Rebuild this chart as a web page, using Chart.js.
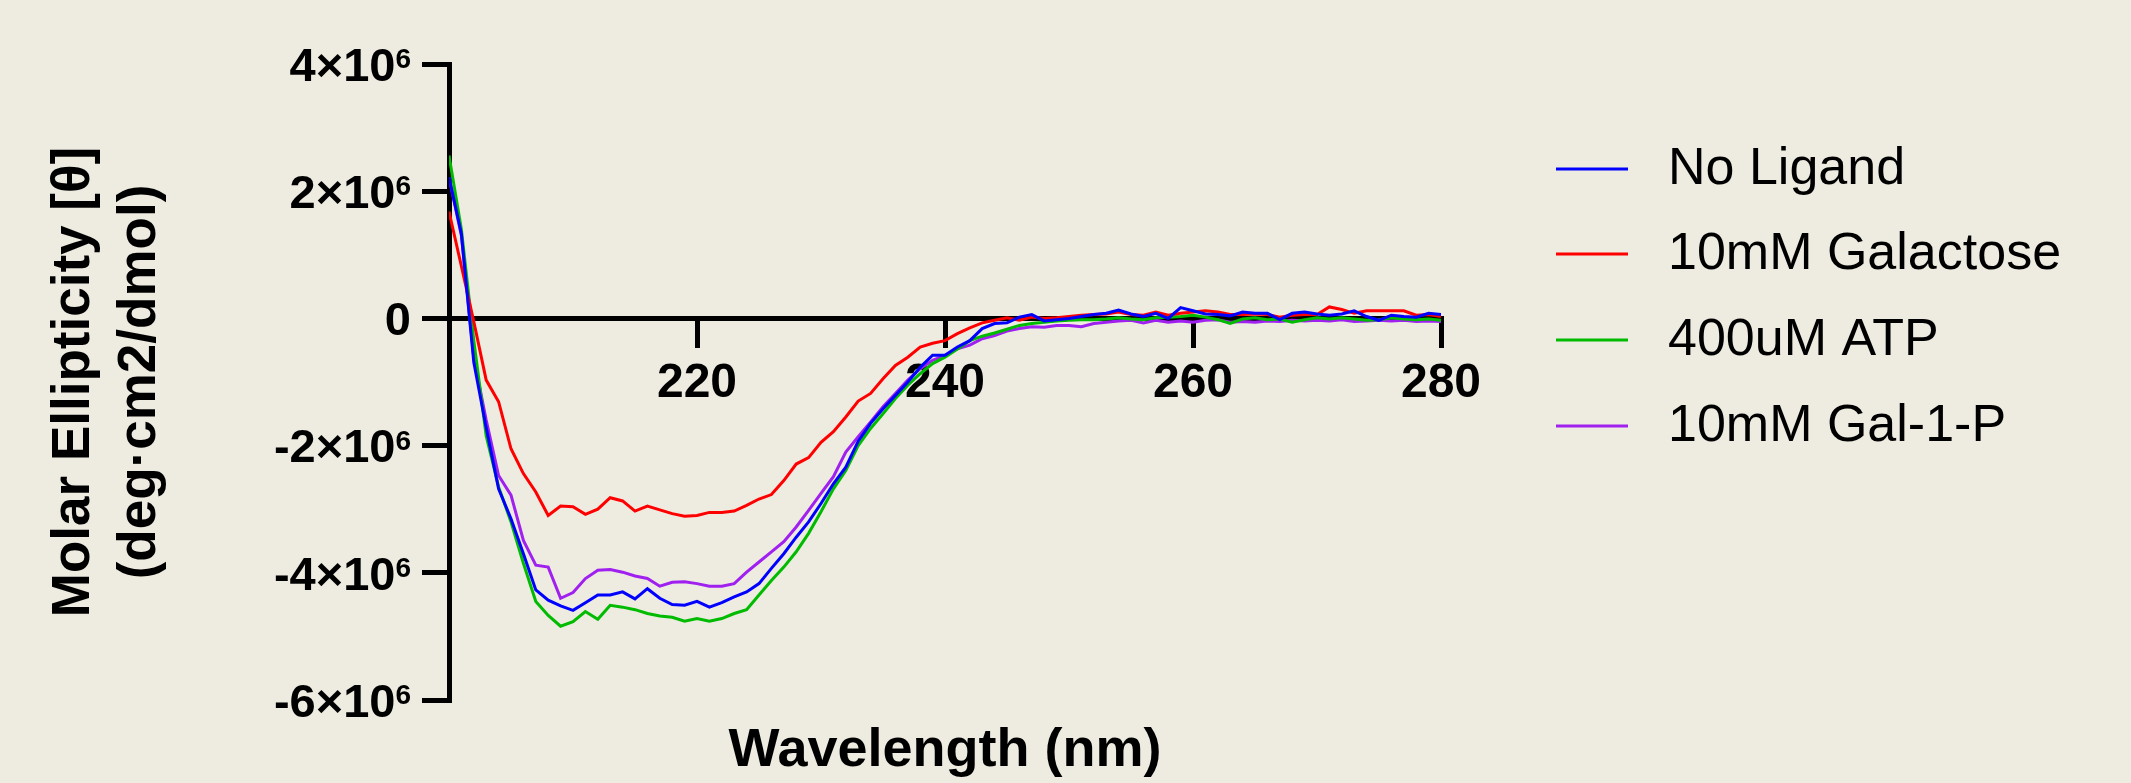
<!DOCTYPE html>
<html>
<head>
<meta charset="utf-8">
<script src="https://cdn.jsdelivr.net/npm/chart.js@4.4.1/dist/chart.umd.min.js"></script>
<style>
  html, body { margin: 0; padding: 0; background: #EEEBE0; }
  #wrap { width: 2131px; height: 783px; position: relative; overflow: hidden; }
  canvas { display: block; }
</style>
</head>
<body>
<div id="wrap"><canvas id="c" width="2131" height="783"></canvas></div>
<script>
// ---- DATA (molar ellipticity values in units of 10^6 deg·cm2/dmol) ----
const wavelengths = [
  200,201,202,203,204,205,206,207,208,209,
  210,211,212,213,214,215,216,217,218,219,
  220,221,222,223,224,225,226,227,228,229,
  230,231,232,233,234,235,236,237,238,239,
  240,241,242,243,244,245,246,247,248,249,
  250,251,252,253,254,255,256,257,258,259,
  260,261,262,263,264,265,266,267,268,269,
  270,271,272,273,274,275,276,277,278,279,
  280
];
const noLigand = [
  2.22, 1.33,-0.69,-1.72,-2.68,-3.15,-3.70,-4.27,-4.43,-4.52,
 -4.59,-4.47,-4.35,-4.35,-4.30,-4.41,-4.25,-4.40,-4.50,-4.51,
 -4.45,-4.54,-4.47,-4.38,-4.30,-4.17,-3.93,-3.70,-3.44,-3.20,
 -2.91,-2.60,-2.34,-1.93,-1.65,-1.42,-1.21,-1.00,-0.77,-0.58,
 -0.58,-0.45,-0.35,-0.16,-0.08,-0.07, 0.02, 0.06,-0.04,-0.02,
  0.00, 0.03, 0.06, 0.08, 0.13, 0.07, 0.03, 0.08, 0.00, 0.17,
  0.12, 0.07, 0.06, 0.04, 0.10, 0.08, 0.08,-0.02, 0.08, 0.10,
  0.07, 0.05, 0.07, 0.12, 0.03,-0.03, 0.05, 0.03, 0.02, 0.08,
  0.06
];
const galactose = [
  1.68, 0.82,-0.05,-0.97,-1.31,-2.05,-2.44,-2.73,-3.10,-2.95,
 -2.96,-3.08,-3.00,-2.82,-2.87,-3.03,-2.95,-3.01,-3.07,-3.11,
 -3.10,-3.05,-3.05,-3.03,-2.94,-2.84,-2.77,-2.55,-2.29,-2.19,
 -1.95,-1.78,-1.55,-1.30,-1.18,-0.95,-0.74,-0.61,-0.45,-0.39,
 -0.35,-0.24,-0.15,-0.07,-0.03, 0.01,-0.03, 0.02, 0.00, 0.01,
  0.03, 0.05, 0.06, 0.07, 0.10, 0.06, 0.05, 0.10, 0.05, 0.08,
  0.10, 0.12, 0.10, 0.06, 0.06, 0.07, 0.06, 0.02, 0.05, 0.06,
  0.06, 0.18, 0.14, 0.08, 0.12, 0.12, 0.12, 0.12, 0.05, 0.06,
  0.03
];
const atp = [
  2.56, 1.40,-0.35,-1.85,-2.65,-3.20,-3.85,-4.45,-4.67,-4.84,
 -4.77,-4.61,-4.73,-4.51,-4.54,-4.58,-4.64,-4.68,-4.70,-4.76,
 -4.72,-4.76,-4.72,-4.64,-4.58,-4.35,-4.12,-3.91,-3.67,-3.38,
 -3.04,-2.68,-2.39,-2.00,-1.73,-1.50,-1.26,-1.05,-0.87,-0.71,
 -0.61,-0.48,-0.35,-0.28,-0.23,-0.17,-0.11,-0.08,-0.06,-0.04,
 -0.03,-0.02,-0.02,-0.01, 0.01,-0.01,-0.02, 0.01, 0.02, 0.03,
  0.05, 0.02,-0.02,-0.08,-0.01, 0.01,-0.02,-0.01,-0.06,-0.02,
  0.01,-0.01, 0.01,-0.01,-0.03,-0.02, 0.01,-0.01,-0.02,-0.01,
 -0.03
];
const gal1p = [
  2.22, 1.30,-0.62,-1.60,-2.47,-2.78,-3.49,-3.88,-3.91,-4.40,
 -4.31,-4.09,-3.96,-3.95,-3.99,-4.05,-4.09,-4.21,-4.15,-4.14,
 -4.17,-4.21,-4.21,-4.17,-3.99,-3.83,-3.67,-3.51,-3.28,-3.02,
 -2.75,-2.49,-2.10,-1.86,-1.63,-1.39,-1.18,-0.97,-0.79,-0.66,
 -0.58,-0.48,-0.42,-0.32,-0.27,-0.20,-0.16,-0.13,-0.14,-0.11,
 -0.11,-0.13,-0.08,-0.06,-0.04,-0.03,-0.07,-0.03,-0.06,-0.04,
 -0.06,-0.03,-0.02,-0.06,-0.05,-0.06,-0.04,-0.05,-0.03,-0.04,
 -0.03,-0.04,-0.02,-0.05,-0.04,-0.03,-0.04,-0.03,-0.05,-0.04,
 -0.05
];
const valueUnit = 1e6;

const seriesNames  = ['No Ligand', '10mM Galactose', '400uM ATP', '10mM Gal-1-P'];
const seriesValues = [noLigand, galactose, atp, gal1p];
const seriesColors = ['#0000FF', '#FF0000', '#00BB00', '#A020F0'];

const xTickValues = [220, 240, 260, 280];
const xTickLabels = ['220', '240', '260', '280'];
const yTickValues = [-6e6, -4e6, -2e6, 0, 2e6, 4e6];
const yTickLabels = ['-6×10', '-4×10', '-2×10', '0', '2×10', '4×10'];
const yTickExponents = ['6', '6', '6', '', '6', '6'];

const xTitle = 'Wavelength (nm)';
const yTitle = ['Molar Ellipticity [θ]', '(deg·cm2/dmol)'];

// ---- CHART ----
const FONT = "'Liberation Sans', Arial, Helvetica, sans-serif";

const datasets = seriesNames.map((name, i) => ({
  label: name,
  data: wavelengths.map((w, j) => ({ x: w, y: seriesValues[i][j] * valueUnit })),
  borderColor: seriesColors[i],
  backgroundColor: seriesColors[i],
  borderWidth: 3,
  pointRadius: 0,
  tension: 0,
  fill: false
}));

// y tick labels with a true superscript exponent, placed via the y scale
const yLabelPlugin = {
  id: 'yPowerLabels',
  afterDraw(chart) {
    const ctx = chart.ctx;
    const ys = chart.scales.y;
    const baseSize = 47, supSize = 28;
    const rightX = ys.right - 27 - 11;
    ctx.save();
    ctx.fillStyle = '#000';
    ctx.textBaseline = 'alphabetic';
    yTickValues.forEach((v, i) => {
      const py = ys.getPixelForValue(v);
      const baseline = py + 0.716 * baseSize / 2;
      let x = rightX;
      const exp = yTickExponents[i];
      if (exp) {
        ctx.font = 'bold ' + supSize + 'px ' + FONT;
        ctx.textAlign = 'right';
        const capTop = baseline - 0.716 * baseSize;
        ctx.fillText(exp, x, capTop + 0.716 * supSize + 1);
        x -= ctx.measureText(exp).width;
      }
      ctx.font = 'bold ' + baseSize + 'px ' + FONT;
      ctx.textAlign = 'right';
      ctx.fillText(yTickLabels[i], x, baseline);
    });
    ctx.restore();
  }
};

const legendPlugin = {
  id: 'sideLegend',
  afterDraw(chart) {
    const ctx = chart.ctx;
    const rowY = [169, 254, 340, 426];
    ctx.save();
    ctx.font = '52px ' + FONT;
    ctx.textBaseline = 'middle';
    ctx.textAlign = 'left';
    seriesNames.forEach((name, i) => {
      const y = rowY[i];
      ctx.strokeStyle = seriesColors[i];
      ctx.lineWidth = 3;
      ctx.beginPath();
      ctx.moveTo(1556, y);
      ctx.lineTo(1628, y);
      ctx.stroke();
      ctx.fillStyle = '#000';
      ctx.fillText(name, 1668, y + 1);
    });
    ctx.restore();
  }
};

new Chart(document.getElementById('c'), {
  type: 'line',
  data: { datasets },
  plugins: [yLabelPlugin, legendPlugin],
  options: {
    responsive: false,
    animation: false,
    devicePixelRatio: 1,
    layout: { padding: { left: 0, right: 690, top: 64, bottom: 83 } },
    plugins: { legend: { display: false }, tooltip: { enabled: false } },
    scales: {
      x: {
        type: 'linear',
        position: { y: 0 },
        min: 200,
        max: 280,
        afterBuildTicks: (s) => { s.ticks = xTickValues.map(v => ({ value: v })); },
        afterFit: (s) => { s.height = 465; },
        ticks: {
          autoSkip: false,
          maxRotation: 0,
          padding: 14,
          color: '#000',
          font: { family: FONT, weight: 'bold', size: 48, lineHeight: 1.0 },
          callback: (v) => { const k = xTickValues.indexOf(v); return k >= 0 ? xTickLabels[k] : ''; }
        },
        grid: { drawOnChartArea: false, drawTicks: true, tickLength: 27, lineWidth: 5, color: '#000' },
        border: { display: true, width: 5, color: '#000' },
        title: {
          display: true, text: xTitle, color: '#000',
          font: { family: FONT, weight: 'bold', size: 54, lineHeight: 1.2 },
          padding: { top: 0, bottom: 0 }
        }
      },
      y: {
        type: 'linear',
        position: 'left',
        min: -6e6,
        max: 4e6,
        afterBuildTicks: (s) => { s.ticks = yTickValues.map(v => ({ value: v })); },
        afterFit: (s) => { s.width = 449; },
        ticks: { display: false },
        grid: { drawOnChartArea: false, drawTicks: true, tickLength: 27, lineWidth: 5, color: '#000' },
        border: { display: true, width: 5, color: '#000' },
        title: {
          display: true, text: yTitle, color: '#000',
          font: { family: FONT, weight: 'bold', size: 53, lineHeight: 1.25 },
          padding: { top: 41, bottom: 0 }
        }
      }
    }
  }
});
</script>
</body>
</html>
